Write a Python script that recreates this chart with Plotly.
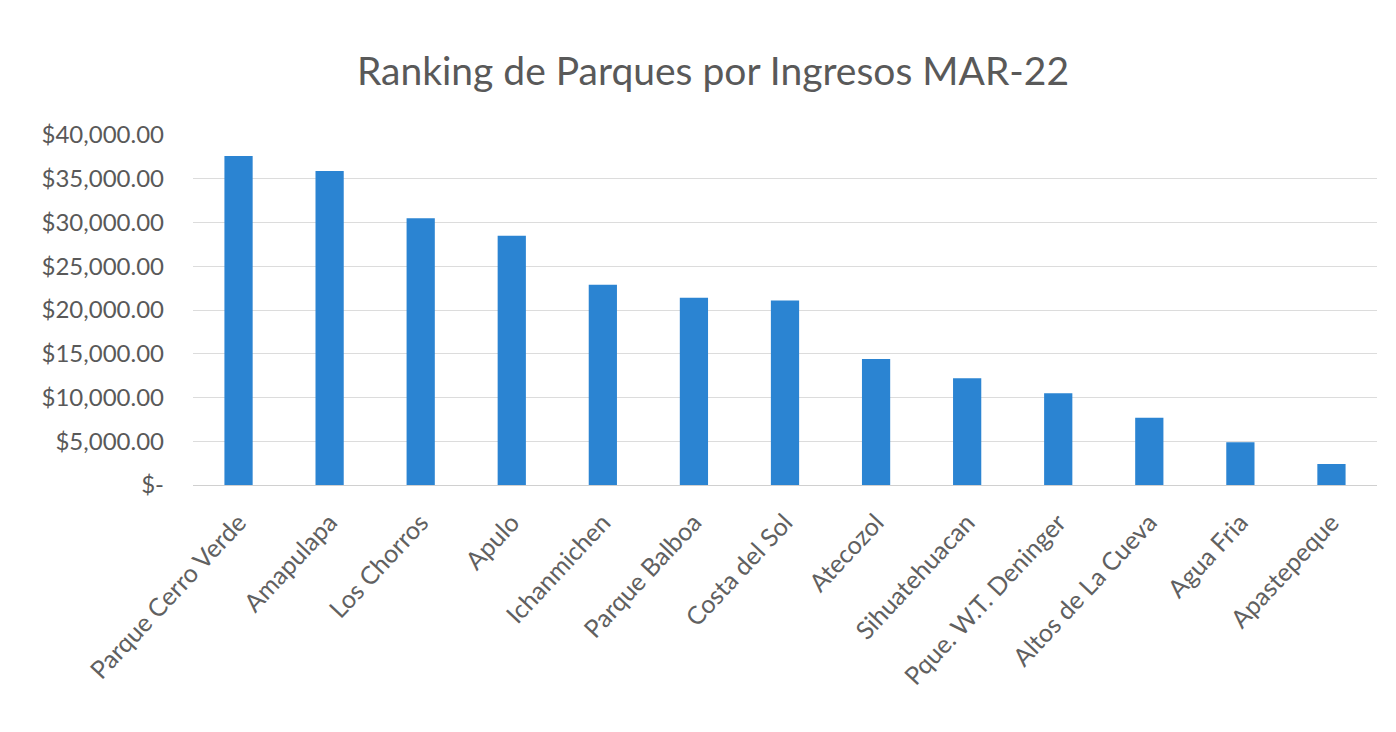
import plotly.graph_objects as go

parques = ["Parque Cerro Verde", "Amapulapa", "Los Chorros", "Apulo", "Ichanmichen",
           "Parque Balboa", "Costa del Sol", "Atecozol", "Sihuatehuacan",
           "Pque. W.T. Deninger", "Altos de La Cueva", "Agua Fria", "Apastepeque"]
ingresos = [37600, 35900, 30500, 28500, 22900, 21400, 21100, 14400, 12200, 10500, 7700, 4900, 2400]

y_tickvals = [0, 5000, 10000, 15000, 20000, 25000, 30000, 35000, 40000]
y_ticktext = ["$-", "$5,000.00", "$10,000.00", "$15,000.00", "$20,000.00",
              "$25,000.00", "$30,000.00", "$35,000.00", "$40,000.00"]

titulo = "Ranking de Parques por Ingresos MAR-22"

fig = go.Figure(go.Bar(x=parques, y=ingresos, marker_color="#2b84d2",
                       marker_line_width=0))

fig.update_layout(
    width=1396, height=732,
    paper_bgcolor="white", plot_bgcolor="white",
    font=dict(family="Lato, sans-serif", color="#595959"),
    title=dict(text=titulo, x=0.505, xanchor="center", y=0.913, yanchor="middle",
               font=dict(size=39, color="#595959")),
    margin=dict(l=185, r=27, t=127, b=255),
    bargap=0.69,
    showlegend=False,
)
fig.update_yaxes(range=[0, 40000], tickvals=y_tickvals, ticktext=y_ticktext,
                 showgrid=True, gridcolor="#dcdcdc", gridwidth=1, zeroline=False,
                 showline=False, tickfont=dict(size=24, color="#595959"), ticks="",
                 ticklabelstandoff=28)
fig.update_xaxes(tickangle=-47, tickfont=dict(size=25, color="#606060"),
                 showline=True, linecolor="#d0d0d0", ticks="",
                 ticklabelstandoff=12)

fig.write_html("out.html")
